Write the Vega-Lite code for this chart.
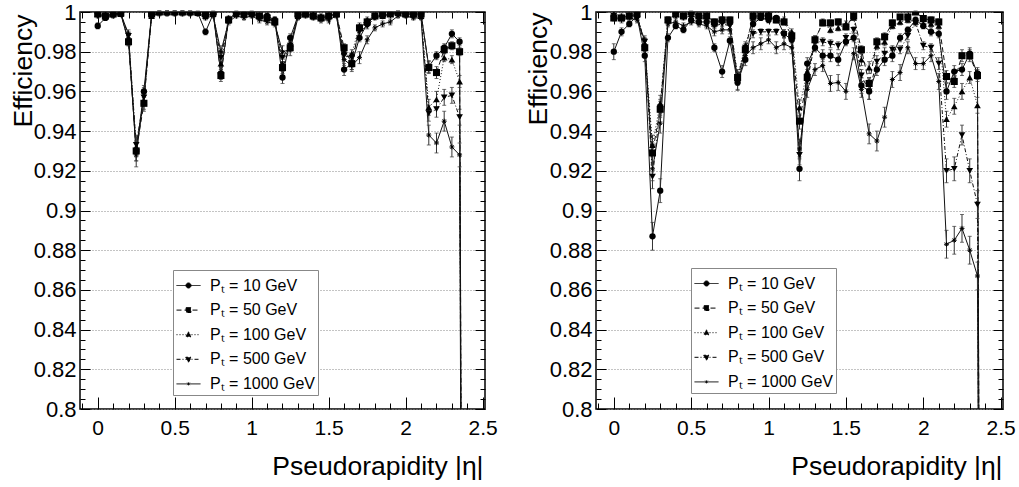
{
"$schema": "https://vega.github.io/schema/vega-lite/v6.json",
"background": "white",
"padding": {"left": 9, "top": 0, "right": 0, "bottom": 0},
"config": {
  "font": "Liberation Sans",
  "view": {"stroke": "black", "strokeWidth": 1.5, "fill": "white"},
  "axis": {"labelFont": "Liberation Sans", "titleFont": "Liberation Sans", "tickColor": "black", "tickWidth": 1, "labelColor": "black", "titleColor": "black"}
},
"datasets": {
"L": [
{"s":"10","x":0,"y":0.993,"e":0.0015},{"s":"10","x":0.05,"y":0.997,"e":0.001},{"s":"10","x":0.1,"y":0.999,"e":0.001},{"s":"10","x":0.15,"y":0.999,"e":0.001},{"s":"10","x":0.2,"y":0.985,"e":0.002},{"s":"10","x":0.25,"y":0.93,"e":0.005},{"s":"10","x":0.3,"y":0.96,"e":0.003},{"s":"10","x":0.35,"y":0.999,"e":0.001},{"s":"10","x":0.4,"y":1,"e":0.0005},{"s":"10","x":0.45,"y":1,"e":0.0005},{"s":"10","x":0.5,"y":1,"e":0.0005},{"s":"10","x":0.55,"y":1,"e":0.0005},{"s":"10","x":0.6,"y":1,"e":0.0005},{"s":"10","x":0.65,"y":0.9995,"e":0.0005},{"s":"10","x":0.7,"y":0.99,"e":0.0015},{"s":"10","x":0.75,"y":0.999,"e":0.001},{"s":"10","x":0.8,"y":0.969,"e":0.003},{"s":"10","x":0.85,"y":0.996,"e":0.0015},{"s":"10","x":0.9,"y":0.999,"e":0.001},{"s":"10","x":0.95,"y":0.999,"e":0.001},{"s":"10","x":1,"y":0.999,"e":0.001},{"s":"10","x":1.05,"y":0.998,"e":0.001},{"s":"10","x":1.1,"y":0.998,"e":0.001},{"s":"10","x":1.15,"y":0.996,"e":0.0015},{"s":"10","x":1.2,"y":0.967,"e":0.003},{"s":"10","x":1.25,"y":0.987,"e":0.002},{"s":"10","x":1.3,"y":0.998,"e":0.001},{"s":"10","x":1.35,"y":0.999,"e":0.001},{"s":"10","x":1.4,"y":0.998,"e":0.001},{"s":"10","x":1.45,"y":0.997,"e":0.001},{"s":"10","x":1.5,"y":0.998,"e":0.001},{"s":"10","x":1.55,"y":0.999,"e":0.001},{"s":"10","x":1.6,"y":0.971,"e":0.003},{"s":"10","x":1.65,"y":0.974,"e":0.003},{"s":"10","x":1.7,"y":0.987,"e":0.002},{"s":"10","x":1.75,"y":0.994,"e":0.0015},{"s":"10","x":1.8,"y":0.998,"e":0.001},{"s":"10","x":1.85,"y":0.998,"e":0.001},{"s":"10","x":1.9,"y":0.999,"e":0.001},{"s":"10","x":1.95,"y":1,"e":0.0005},{"s":"10","x":2,"y":0.999,"e":0.001},{"s":"10","x":2.05,"y":0.999,"e":0.001},{"s":"10","x":2.1,"y":0.999,"e":0.001},{"s":"10","x":2.15,"y":0.9725,"e":0.003},{"s":"10","x":2.2,"y":0.978,"e":0.002},{"s":"10","x":2.25,"y":0.982,"e":0.002},{"s":"10","x":2.3,"y":0.989,"e":0.002},{"s":"10","x":2.35,"y":0.985,"e":0.002},{"s":"10","x":2.4,"y":0,"e":0},
{"s":"50","x":0,"y":0.999,"e":0.001},{"s":"50","x":0.05,"y":0.998,"e":0.001},{"s":"50","x":0.1,"y":0.999,"e":0.001},{"s":"50","x":0.15,"y":0.9995,"e":0.0005},{"s":"50","x":0.2,"y":0.985,"e":0.002},{"s":"50","x":0.25,"y":0.93,"e":0.005},{"s":"50","x":0.3,"y":0.954,"e":0.004},{"s":"50","x":0.35,"y":0.999,"e":0.001},{"s":"50","x":0.4,"y":1,"e":0.0005},{"s":"50","x":0.45,"y":1,"e":0.0005},{"s":"50","x":0.5,"y":1,"e":0.0005},{"s":"50","x":0.55,"y":1,"e":0.0005},{"s":"50","x":0.6,"y":1,"e":0.0005},{"s":"50","x":0.65,"y":1,"e":0.0005},{"s":"50","x":0.7,"y":0.999,"e":0.001},{"s":"50","x":0.75,"y":1,"e":0.0005},{"s":"50","x":0.8,"y":0.968,"e":0.003},{"s":"50","x":0.85,"y":0.996,"e":0.0015},{"s":"50","x":0.9,"y":1,"e":0.0005},{"s":"50","x":0.95,"y":0.999,"e":0.001},{"s":"50","x":1,"y":1,"e":0.0005},{"s":"50","x":1.05,"y":0.998,"e":0.001},{"s":"50","x":1.1,"y":0.997,"e":0.001},{"s":"50","x":1.15,"y":0.995,"e":0.0015},{"s":"50","x":1.2,"y":0.972,"e":0.003},{"s":"50","x":1.25,"y":0.982,"e":0.002},{"s":"50","x":1.3,"y":0.999,"e":0.001},{"s":"50","x":1.35,"y":0.999,"e":0.001},{"s":"50","x":1.4,"y":0.998,"e":0.001},{"s":"50","x":1.45,"y":0.997,"e":0.001},{"s":"50","x":1.5,"y":0.998,"e":0.001},{"s":"50","x":1.55,"y":0.999,"e":0.001},{"s":"50","x":1.6,"y":0.982,"e":0.002},{"s":"50","x":1.65,"y":0.974,"e":0.003},{"s":"50","x":1.7,"y":0.992,"e":0.0015},{"s":"50","x":1.75,"y":0.995,"e":0.0015},{"s":"50","x":1.8,"y":0.998,"e":0.001},{"s":"50","x":1.85,"y":0.999,"e":0.001},{"s":"50","x":1.9,"y":0.999,"e":0.001},{"s":"50","x":1.95,"y":1,"e":0.0005},{"s":"50","x":2,"y":0.999,"e":0.001},{"s":"50","x":2.05,"y":0.999,"e":0.001},{"s":"50","x":2.1,"y":0.999,"e":0.001},{"s":"50","x":2.15,"y":0.972,"e":0.003},{"s":"50","x":2.2,"y":0.9695,"e":0.003},{"s":"50","x":2.25,"y":0.981,"e":0.002},{"s":"50","x":2.3,"y":0.983,"e":0.002},{"s":"50","x":2.35,"y":0.98,"e":0.002},{"s":"50","x":2.4,"y":0,"e":0},
{"s":"100","x":0,"y":0.999,"e":0.001},{"s":"100","x":0.05,"y":0.999,"e":0.001},{"s":"100","x":0.1,"y":0.999,"e":0.001},{"s":"100","x":0.15,"y":0.999,"e":0.001},{"s":"100","x":0.2,"y":0.987,"e":0.002},{"s":"100","x":0.25,"y":0.932,"e":0.005},{"s":"100","x":0.3,"y":0.955,"e":0.004},{"s":"100","x":0.35,"y":0.998,"e":0.001},{"s":"100","x":0.4,"y":1,"e":0.0005},{"s":"100","x":0.45,"y":1,"e":0.0005},{"s":"100","x":0.5,"y":1,"e":0.0005},{"s":"100","x":0.55,"y":1,"e":0.0005},{"s":"100","x":0.6,"y":1,"e":0.0005},{"s":"100","x":0.65,"y":0.9995,"e":0.0005},{"s":"100","x":0.7,"y":0.998,"e":0.001},{"s":"100","x":0.75,"y":0.999,"e":0.001},{"s":"100","x":0.8,"y":0.974,"e":0.003},{"s":"100","x":0.85,"y":0.997,"e":0.001},{"s":"100","x":0.9,"y":0.999,"e":0.001},{"s":"100","x":0.95,"y":0.999,"e":0.001},{"s":"100","x":1,"y":0.999,"e":0.001},{"s":"100","x":1.05,"y":0.998,"e":0.001},{"s":"100","x":1.1,"y":0.997,"e":0.001},{"s":"100","x":1.15,"y":0.996,"e":0.0015},{"s":"100","x":1.2,"y":0.974,"e":0.003},{"s":"100","x":1.25,"y":0.984,"e":0.002},{"s":"100","x":1.3,"y":0.998,"e":0.001},{"s":"100","x":1.35,"y":0.999,"e":0.001},{"s":"100","x":1.4,"y":0.999,"e":0.001},{"s":"100","x":1.45,"y":0.998,"e":0.001},{"s":"100","x":1.5,"y":0.998,"e":0.001},{"s":"100","x":1.55,"y":0.999,"e":0.001},{"s":"100","x":1.6,"y":0.98,"e":0.002},{"s":"100","x":1.65,"y":0.979,"e":0.002},{"s":"100","x":1.7,"y":0.993,"e":0.0015},{"s":"100","x":1.75,"y":0.996,"e":0.0015},{"s":"100","x":1.8,"y":0.998,"e":0.001},{"s":"100","x":1.85,"y":0.998,"e":0.001},{"s":"100","x":1.9,"y":0.999,"e":0.001},{"s":"100","x":1.95,"y":0.9995,"e":0.0005},{"s":"100","x":2,"y":0.999,"e":0.001},{"s":"100","x":2.05,"y":0.999,"e":0.001},{"s":"100","x":2.1,"y":0.998,"e":0.001},{"s":"100","x":2.15,"y":0.952,"e":0.004},{"s":"100","x":2.2,"y":0.956,"e":0.004},{"s":"100","x":2.25,"y":0.977,"e":0.002},{"s":"100","x":2.3,"y":0.976,"e":0.002},{"s":"100","x":2.35,"y":0.965,"e":0.003},{"s":"100","x":2.4,"y":0,"e":0},
{"s":"500","x":0,"y":0.998,"e":0.001},{"s":"500","x":0.05,"y":0.998,"e":0.001},{"s":"500","x":0.1,"y":0.999,"e":0.001},{"s":"500","x":0.15,"y":0.999,"e":0.001},{"s":"500","x":0.2,"y":0.988,"e":0.002},{"s":"500","x":0.25,"y":0.933,"e":0.005},{"s":"500","x":0.3,"y":0.957,"e":0.004},{"s":"500","x":0.35,"y":0.998,"e":0.001},{"s":"500","x":0.4,"y":0.9995,"e":0.0005},{"s":"500","x":0.45,"y":1,"e":0.0005},{"s":"500","x":0.5,"y":1,"e":0.0005},{"s":"500","x":0.55,"y":1,"e":0.0005},{"s":"500","x":0.6,"y":0.9995,"e":0.0005},{"s":"500","x":0.65,"y":0.9995,"e":0.0005},{"s":"500","x":0.7,"y":0.998,"e":0.001},{"s":"500","x":0.75,"y":0.999,"e":0.001},{"s":"500","x":0.8,"y":0.977,"e":0.002},{"s":"500","x":0.85,"y":0.996,"e":0.0015},{"s":"500","x":0.9,"y":0.999,"e":0.001},{"s":"500","x":0.95,"y":0.999,"e":0.001},{"s":"500","x":1,"y":0.999,"e":0.001},{"s":"500","x":1.05,"y":0.997,"e":0.001},{"s":"500","x":1.1,"y":0.997,"e":0.001},{"s":"500","x":1.15,"y":0.995,"e":0.0015},{"s":"500","x":1.2,"y":0.977,"e":0.002},{"s":"500","x":1.25,"y":0.983,"e":0.002},{"s":"500","x":1.3,"y":0.998,"e":0.001},{"s":"500","x":1.35,"y":0.999,"e":0.001},{"s":"500","x":1.4,"y":0.998,"e":0.001},{"s":"500","x":1.45,"y":0.997,"e":0.001},{"s":"500","x":1.5,"y":0.997,"e":0.001},{"s":"500","x":1.55,"y":0.999,"e":0.001},{"s":"500","x":1.6,"y":0.978,"e":0.002},{"s":"500","x":1.65,"y":0.977,"e":0.002},{"s":"500","x":1.7,"y":0.99,"e":0.0015},{"s":"500","x":1.75,"y":0.993,"e":0.0015},{"s":"500","x":1.8,"y":0.997,"e":0.001},{"s":"500","x":1.85,"y":0.998,"e":0.001},{"s":"500","x":1.9,"y":0.999,"e":0.001},{"s":"500","x":1.95,"y":0.999,"e":0.001},{"s":"500","x":2,"y":0.999,"e":0.001},{"s":"500","x":2.05,"y":0.998,"e":0.001},{"s":"500","x":2.1,"y":0.998,"e":0.001},{"s":"500","x":2.15,"y":0.949,"e":0.004},{"s":"500","x":2.2,"y":0.951,"e":0.004},{"s":"500","x":2.25,"y":0.957,"e":0.004},{"s":"500","x":2.3,"y":0.958,"e":0.004},{"s":"500","x":2.35,"y":0.947,"e":0.004},{"s":"500","x":2.4,"y":0,"e":0},
{"s":"1000","x":0,"y":0.999,"e":0.001},{"s":"1000","x":0.05,"y":0.997,"e":0.001},{"s":"1000","x":0.1,"y":0.998,"e":0.001},{"s":"1000","x":0.15,"y":0.999,"e":0.001},{"s":"1000","x":0.2,"y":0.989,"e":0.002},{"s":"1000","x":0.25,"y":0.928,"e":0.006},{"s":"1000","x":0.3,"y":0.958,"e":0.004},{"s":"1000","x":0.35,"y":0.998,"e":0.001},{"s":"1000","x":0.4,"y":0.999,"e":0.001},{"s":"1000","x":0.45,"y":0.999,"e":0.001},{"s":"1000","x":0.5,"y":0.999,"e":0.001},{"s":"1000","x":0.55,"y":0.999,"e":0.001},{"s":"1000","x":0.6,"y":0.999,"e":0.001},{"s":"1000","x":0.65,"y":0.999,"e":0.001},{"s":"1000","x":0.7,"y":0.997,"e":0.001},{"s":"1000","x":0.75,"y":0.998,"e":0.001},{"s":"1000","x":0.8,"y":0.98,"e":0.003},{"s":"1000","x":0.85,"y":0.995,"e":0.0015},{"s":"1000","x":0.9,"y":0.998,"e":0.001},{"s":"1000","x":0.95,"y":0.997,"e":0.001},{"s":"1000","x":1,"y":0.998,"e":0.001},{"s":"1000","x":1.05,"y":0.996,"e":0.0015},{"s":"1000","x":1.1,"y":0.995,"e":0.0015},{"s":"1000","x":1.15,"y":0.994,"e":0.0015},{"s":"1000","x":1.2,"y":0.98,"e":0.003},{"s":"1000","x":1.25,"y":0.981,"e":0.003},{"s":"1000","x":1.3,"y":0.997,"e":0.001},{"s":"1000","x":1.35,"y":0.998,"e":0.001},{"s":"1000","x":1.4,"y":0.997,"e":0.001},{"s":"1000","x":1.45,"y":0.996,"e":0.0015},{"s":"1000","x":1.5,"y":0.996,"e":0.0015},{"s":"1000","x":1.55,"y":0.998,"e":0.001},{"s":"1000","x":1.6,"y":0.976,"e":0.003},{"s":"1000","x":1.65,"y":0.973,"e":0.003},{"s":"1000","x":1.7,"y":0.977,"e":0.003},{"s":"1000","x":1.75,"y":0.986,"e":0.002},{"s":"1000","x":1.8,"y":0.992,"e":0.0015},{"s":"1000","x":1.85,"y":0.994,"e":0.0015},{"s":"1000","x":1.9,"y":0.995,"e":0.0015},{"s":"1000","x":1.95,"y":0.998,"e":0.001},{"s":"1000","x":2,"y":0.998,"e":0.001},{"s":"1000","x":2.05,"y":0.997,"e":0.001},{"s":"1000","x":2.1,"y":0.997,"e":0.001},{"s":"1000","x":2.15,"y":0.938,"e":0.005},{"s":"1000","x":2.2,"y":0.934,"e":0.005},{"s":"1000","x":2.25,"y":0.945,"e":0.005},{"s":"1000","x":2.3,"y":0.932,"e":0.005},{"s":"1000","x":2.35,"y":0.928,"e":0.006},{"s":"1000","x":2.4,"y":0,"e":0}
],
"R": [
{"s":"10","x":0,"y":0.98,"e":0.004},{"s":"10","x":0.05,"y":0.99,"e":0.002},{"s":"10","x":0.1,"y":0.994,"e":0.0015},{"s":"10","x":0.15,"y":0.998,"e":0.001},{"s":"10","x":0.2,"y":0.978,"e":0.003},{"s":"10","x":0.25,"y":0.887,"e":0.007},{"s":"10","x":0.3,"y":0.91,"e":0.006},{"s":"10","x":0.35,"y":0.987,"e":0.002},{"s":"10","x":0.4,"y":0.993,"e":0.0015},{"s":"10","x":0.45,"y":0.991,"e":0.0015},{"s":"10","x":0.5,"y":0.996,"e":0.0015},{"s":"10","x":0.55,"y":0.995,"e":0.0015},{"s":"10","x":0.6,"y":0.995,"e":0.0015},{"s":"10","x":0.65,"y":0.982,"e":0.002},{"s":"10","x":0.7,"y":0.97,"e":0.003},{"s":"10","x":0.75,"y":0.9855,"e":0.002},{"s":"10","x":0.8,"y":0.9645,"e":0.004},{"s":"10","x":0.85,"y":0.976,"e":0.003},{"s":"10","x":0.9,"y":0.994,"e":0.0015},{"s":"10","x":0.95,"y":0.997,"e":0.001},{"s":"10","x":1,"y":0.996,"e":0.0015},{"s":"10","x":1.05,"y":0.997,"e":0.001},{"s":"10","x":1.1,"y":0.989,"e":0.002},{"s":"10","x":1.15,"y":0.986,"e":0.002},{"s":"10","x":1.2,"y":0.921,"e":0.006},{"s":"10","x":1.25,"y":0.974,"e":0.003},{"s":"10","x":1.3,"y":0.982,"e":0.002},{"s":"10","x":1.35,"y":0.978,"e":0.003},{"s":"10","x":1.4,"y":0.978,"e":0.003},{"s":"10","x":1.45,"y":0.976,"e":0.003},{"s":"10","x":1.5,"y":0.985,"e":0.002},{"s":"10","x":1.55,"y":0.987,"e":0.002},{"s":"10","x":1.6,"y":0.963,"e":0.004},{"s":"10","x":1.65,"y":0.96,"e":0.004},{"s":"10","x":1.7,"y":0.971,"e":0.003},{"s":"10","x":1.75,"y":0.976,"e":0.003},{"s":"10","x":1.8,"y":0.978,"e":0.003},{"s":"10","x":1.85,"y":0.987,"e":0.002},{"s":"10","x":1.9,"y":0.991,"e":0.0015},{"s":"10","x":1.95,"y":0.996,"e":0.0015},{"s":"10","x":2,"y":0.993,"e":0.0015},{"s":"10","x":2.05,"y":0.99,"e":0.002},{"s":"10","x":2.1,"y":0.989,"e":0.002},{"s":"10","x":2.15,"y":0.96,"e":0.004},{"s":"10","x":2.2,"y":0.97,"e":0.003},{"s":"10","x":2.25,"y":0.971,"e":0.003},{"s":"10","x":2.3,"y":0.979,"e":0.003},{"s":"10","x":2.35,"y":0.969,"e":0.003},{"s":"10","x":2.4,"y":0,"e":0},
{"s":"50","x":0,"y":0.997,"e":0.001},{"s":"50","x":0.05,"y":0.997,"e":0.001},{"s":"50","x":0.1,"y":0.998,"e":0.001},{"s":"50","x":0.15,"y":0.999,"e":0.001},{"s":"50","x":0.2,"y":0.982,"e":0.002},{"s":"50","x":0.25,"y":0.929,"e":0.005},{"s":"50","x":0.3,"y":0.951,"e":0.004},{"s":"50","x":0.35,"y":0.996,"e":0.0015},{"s":"50","x":0.4,"y":0.999,"e":0.001},{"s":"50","x":0.45,"y":0.998,"e":0.001},{"s":"50","x":0.5,"y":1,"e":0.0005},{"s":"50","x":0.55,"y":0.998,"e":0.001},{"s":"50","x":0.6,"y":0.998,"e":0.001},{"s":"50","x":0.65,"y":0.995,"e":0.0015},{"s":"50","x":0.7,"y":0.996,"e":0.0015},{"s":"50","x":0.75,"y":0.996,"e":0.0015},{"s":"50","x":0.8,"y":0.967,"e":0.003},{"s":"50","x":0.85,"y":0.981,"e":0.002},{"s":"50","x":0.9,"y":0.998,"e":0.001},{"s":"50","x":0.95,"y":0.998,"e":0.001},{"s":"50","x":1,"y":0.998,"e":0.001},{"s":"50","x":1.05,"y":0.996,"e":0.0015},{"s":"50","x":1.1,"y":0.995,"e":0.0015},{"s":"50","x":1.15,"y":0.988,"e":0.002},{"s":"50","x":1.2,"y":0.945,"e":0.004},{"s":"50","x":1.25,"y":0.967,"e":0.003},{"s":"50","x":1.3,"y":0.986,"e":0.002},{"s":"50","x":1.35,"y":0.9945,"e":0.0015},{"s":"50","x":1.4,"y":0.9945,"e":0.0015},{"s":"50","x":1.45,"y":0.995,"e":0.0015},{"s":"50","x":1.5,"y":0.9925,"e":0.0015},{"s":"50","x":1.55,"y":0.998,"e":0.001},{"s":"50","x":1.6,"y":0.981,"e":0.002},{"s":"50","x":1.65,"y":0.964,"e":0.003},{"s":"50","x":1.7,"y":0.985,"e":0.002},{"s":"50","x":1.75,"y":0.9875,"e":0.002},{"s":"50","x":1.8,"y":0.9945,"e":0.0015},{"s":"50","x":1.85,"y":0.9975,"e":0.001},{"s":"50","x":1.9,"y":0.9975,"e":0.001},{"s":"50","x":1.95,"y":1,"e":0.0005},{"s":"50","x":2,"y":0.9967,"e":0.001},{"s":"50","x":2.05,"y":0.996,"e":0.0015},{"s":"50","x":2.1,"y":0.995,"e":0.0015},{"s":"50","x":2.15,"y":0.9675,"e":0.003},{"s":"50","x":2.2,"y":0.965,"e":0.003},{"s":"50","x":2.25,"y":0.978,"e":0.003},{"s":"50","x":2.3,"y":0.978,"e":0.003},{"s":"50","x":2.35,"y":0.968,"e":0.003},{"s":"50","x":2.4,"y":0,"e":0},
{"s":"100","x":0,"y":0.999,"e":0.001},{"s":"100","x":0.05,"y":0.998,"e":0.001},{"s":"100","x":0.1,"y":0.998,"e":0.001},{"s":"100","x":0.15,"y":0.999,"e":0.001},{"s":"100","x":0.2,"y":0.984,"e":0.002},{"s":"100","x":0.25,"y":0.933,"e":0.005},{"s":"100","x":0.3,"y":0.954,"e":0.004},{"s":"100","x":0.35,"y":0.996,"e":0.0015},{"s":"100","x":0.4,"y":0.999,"e":0.001},{"s":"100","x":0.45,"y":0.998,"e":0.001},{"s":"100","x":0.5,"y":0.999,"e":0.001},{"s":"100","x":0.55,"y":0.998,"e":0.001},{"s":"100","x":0.6,"y":0.998,"e":0.001},{"s":"100","x":0.65,"y":0.994,"e":0.0015},{"s":"100","x":0.7,"y":0.996,"e":0.0015},{"s":"100","x":0.75,"y":0.995,"e":0.0015},{"s":"100","x":0.8,"y":0.968,"e":0.003},{"s":"100","x":0.85,"y":0.983,"e":0.002},{"s":"100","x":0.9,"y":0.997,"e":0.001},{"s":"100","x":0.95,"y":0.998,"e":0.001},{"s":"100","x":1,"y":0.999,"e":0.001},{"s":"100","x":1.05,"y":0.997,"e":0.001},{"s":"100","x":1.1,"y":0.996,"e":0.0015},{"s":"100","x":1.15,"y":0.99,"e":0.0015},{"s":"100","x":1.2,"y":0.952,"e":0.004},{"s":"100","x":1.25,"y":0.97,"e":0.003},{"s":"100","x":1.3,"y":0.986,"e":0.002},{"s":"100","x":1.35,"y":0.995,"e":0.0015},{"s":"100","x":1.4,"y":0.991,"e":0.0015},{"s":"100","x":1.45,"y":0.992,"e":0.0015},{"s":"100","x":1.5,"y":0.994,"e":0.0015},{"s":"100","x":1.55,"y":0.997,"e":0.001},{"s":"100","x":1.6,"y":0.976,"e":0.003},{"s":"100","x":1.65,"y":0.972,"e":0.003},{"s":"100","x":1.7,"y":0.983,"e":0.002},{"s":"100","x":1.75,"y":0.985,"e":0.002},{"s":"100","x":1.8,"y":0.993,"e":0.0015},{"s":"100","x":1.85,"y":0.995,"e":0.0015},{"s":"100","x":1.9,"y":0.996,"e":0.0015},{"s":"100","x":1.95,"y":0.995,"e":0.0015},{"s":"100","x":2,"y":0.994,"e":0.0015},{"s":"100","x":2.05,"y":0.994,"e":0.0015},{"s":"100","x":2.1,"y":0.993,"e":0.0015},{"s":"100","x":2.15,"y":0.946,"e":0.004},{"s":"100","x":2.2,"y":0.9525,"e":0.004},{"s":"100","x":2.25,"y":0.96,"e":0.004},{"s":"100","x":2.3,"y":0.967,"e":0.003},{"s":"100","x":2.35,"y":0.953,"e":0.004},{"s":"100","x":2.4,"y":0,"e":0},
{"s":"500","x":0,"y":0.998,"e":0.001},{"s":"500","x":0.05,"y":0.997,"e":0.001},{"s":"500","x":0.1,"y":0.998,"e":0.001},{"s":"500","x":0.15,"y":0.998,"e":0.001},{"s":"500","x":0.2,"y":0.985,"e":0.002},{"s":"500","x":0.25,"y":0.917,"e":0.006},{"s":"500","x":0.3,"y":0.952,"e":0.004},{"s":"500","x":0.35,"y":0.995,"e":0.0015},{"s":"500","x":0.4,"y":0.998,"e":0.001},{"s":"500","x":0.45,"y":0.997,"e":0.001},{"s":"500","x":0.5,"y":0.998,"e":0.001},{"s":"500","x":0.55,"y":0.997,"e":0.001},{"s":"500","x":0.6,"y":0.997,"e":0.001},{"s":"500","x":0.65,"y":0.993,"e":0.0015},{"s":"500","x":0.7,"y":0.994,"e":0.0015},{"s":"500","x":0.75,"y":0.993,"e":0.0015},{"s":"500","x":0.8,"y":0.966,"e":0.003},{"s":"500","x":0.85,"y":0.982,"e":0.002},{"s":"500","x":0.9,"y":0.989,"e":0.002},{"s":"500","x":0.95,"y":0.99,"e":0.0015},{"s":"500","x":1,"y":0.99,"e":0.0015},{"s":"500","x":1.05,"y":0.99,"e":0.0015},{"s":"500","x":1.1,"y":0.989,"e":0.002},{"s":"500","x":1.15,"y":0.987,"e":0.002},{"s":"500","x":1.2,"y":0.928,"e":0.005},{"s":"500","x":1.25,"y":0.965,"e":0.003},{"s":"500","x":1.3,"y":0.985,"e":0.002},{"s":"500","x":1.35,"y":0.985,"e":0.002},{"s":"500","x":1.4,"y":0.984,"e":0.002},{"s":"500","x":1.45,"y":0.983,"e":0.002},{"s":"500","x":1.5,"y":0.987,"e":0.002},{"s":"500","x":1.55,"y":0.991,"e":0.0015},{"s":"500","x":1.6,"y":0.968,"e":0.003},{"s":"500","x":1.65,"y":0.96,"e":0.004},{"s":"500","x":1.7,"y":0.975,"e":0.003},{"s":"500","x":1.75,"y":0.979,"e":0.003},{"s":"500","x":1.8,"y":0.981,"e":0.002},{"s":"500","x":1.85,"y":0.981,"e":0.002},{"s":"500","x":1.9,"y":0.988,"e":0.002},{"s":"500","x":1.95,"y":0.9945,"e":0.0015},{"s":"500","x":2,"y":0.983,"e":0.002},{"s":"500","x":2.05,"y":0.982,"e":0.002},{"s":"500","x":2.1,"y":0.974,"e":0.003},{"s":"500","x":2.15,"y":0.92,"e":0.006},{"s":"500","x":2.2,"y":0.921,"e":0.006},{"s":"500","x":2.25,"y":0.938,"e":0.005},{"s":"500","x":2.3,"y":0.92,"e":0.006},{"s":"500","x":2.35,"y":0.903,"e":0.007},{"s":"500","x":2.4,"y":0,"e":0},
{"s":"1000","x":0,"y":0.997,"e":0.0015},{"s":"1000","x":0.05,"y":0.996,"e":0.0015},{"s":"1000","x":0.1,"y":0.997,"e":0.001},{"s":"1000","x":0.15,"y":0.996,"e":0.0015},{"s":"1000","x":0.2,"y":0.986,"e":0.002},{"s":"1000","x":0.25,"y":0.921,"e":0.006},{"s":"1000","x":0.3,"y":0.944,"e":0.005},{"s":"1000","x":0.35,"y":0.994,"e":0.0015},{"s":"1000","x":0.4,"y":0.995,"e":0.0015},{"s":"1000","x":0.45,"y":0.993,"e":0.0015},{"s":"1000","x":0.5,"y":0.995,"e":0.0015},{"s":"1000","x":0.55,"y":0.994,"e":0.0015},{"s":"1000","x":0.6,"y":0.993,"e":0.0015},{"s":"1000","x":0.65,"y":0.99,"e":0.002},{"s":"1000","x":0.7,"y":0.991,"e":0.002},{"s":"1000","x":0.75,"y":0.991,"e":0.002},{"s":"1000","x":0.8,"y":0.965,"e":0.004},{"s":"1000","x":0.85,"y":0.978,"e":0.003},{"s":"1000","x":0.9,"y":0.982,"e":0.003},{"s":"1000","x":0.95,"y":0.984,"e":0.003},{"s":"1000","x":1,"y":0.986,"e":0.002},{"s":"1000","x":1.05,"y":0.982,"e":0.003},{"s":"1000","x":1.1,"y":0.984,"e":0.003},{"s":"1000","x":1.15,"y":0.982,"e":0.003},{"s":"1000","x":1.2,"y":0.931,"e":0.005},{"s":"1000","x":1.25,"y":0.961,"e":0.004},{"s":"1000","x":1.3,"y":0.971,"e":0.003},{"s":"1000","x":1.35,"y":0.973,"e":0.003},{"s":"1000","x":1.4,"y":0.964,"e":0.004},{"s":"1000","x":1.45,"y":0.9645,"e":0.004},{"s":"1000","x":1.5,"y":0.96,"e":0.004},{"s":"1000","x":1.55,"y":0.979,"e":0.003},{"s":"1000","x":1.6,"y":0.961,"e":0.004},{"s":"1000","x":1.65,"y":0.9386,"e":0.005},{"s":"1000","x":1.7,"y":0.935,"e":0.005},{"s":"1000","x":1.75,"y":0.947,"e":0.005},{"s":"1000","x":1.8,"y":0.966,"e":0.004},{"s":"1000","x":1.85,"y":0.9695,"e":0.004},{"s":"1000","x":1.9,"y":0.982,"e":0.003},{"s":"1000","x":1.95,"y":0.974,"e":0.003},{"s":"1000","x":2,"y":0.974,"e":0.003},{"s":"1000","x":2.05,"y":0.978,"e":0.003},{"s":"1000","x":2.1,"y":0.965,"e":0.004},{"s":"1000","x":2.15,"y":0.883,"e":0.007},{"s":"1000","x":2.2,"y":0.885,"e":0.007},{"s":"1000","x":2.25,"y":0.891,"e":0.007},{"s":"1000","x":2.3,"y":0.88,"e":0.007},{"s":"1000","x":2.35,"y":0.867,"e":0.007},{"s":"1000","x":2.4,"y":0,"e":0}
]
},
"hconcat": [
{
 "width": 405, "height": 397,
 "data": {"name": "L"},
 "resolve": {"axis": {"x": "independent", "y": "independent"}},
 "layer": [
  {"transform": [{"filter": "datum.s == '10'"}],
   "mark": {"type": "line", "clip": true, "strokeWidth": 1, "color": "#111"},
   "encoding": {
    "x": {"field": "x", "type": "quantitative", "scale": {"domain": [-0.115, 2.515], "nice": false, "zero": false},
      "axis": {"orient": "bottom", "values": [0,0.5,1,1.5,2,2.5], "format": "~g", "ticks": false, "domain": false, "grid": false, "labelFontSize": 21, "labelPadding": 8, "labelFlush": false, "labelOverlap": false, "title": "Pseudorapidity |η|", "titleFontSize": 26.5, "titleFontWeight": "normal", "titleAnchor": "end", "titleAlign": "right", "titleBaseline": "alphabetic", "titleX": 403, "titleY": 65}},
    "y": {"field": "y", "type": "quantitative", "scale": {"domain": [0.8, 1], "nice": false, "zero": false},
      "axis": {"orient": "left", "values": [0.8,0.82,0.84,0.86,0.88,0.9,0.92,0.94,0.96,0.98,1], "format": "~g", "ticks": false, "domain": false, "grid": true, "gridColor": "#888", "gridDash": [1,2], "gridWidth": 1, "labelFontSize": 22, "labelPadding": 4, "labelFlush": false, "labelOverlap": false, "title": "Efficiency", "titleFontSize": 26.5, "titleFontWeight": "normal", "titleAngle": 270, "titleAlign": "right", "titleBaseline": "alphabetic", "titleX": -49, "titleY": 2}}
   }},
  {"transform": [{"filter": "datum.s == '50'"}],
   "mark": {"type": "line", "clip": true, "strokeWidth": 1, "color": "#111", "strokeDash": [5,3]},
   "encoding": {"x": {"field": "x", "type": "quantitative", "axis": null}, "y": {"field": "y", "type": "quantitative", "axis": null}}},
  {"transform": [{"filter": "datum.s == '100'"}],
   "mark": {"type": "line", "clip": true, "strokeWidth": 1, "color": "#111", "strokeDash": [1,2]},
   "encoding": {"x": {"field": "x", "type": "quantitative", "axis": null}, "y": {"field": "y", "type": "quantitative", "axis": null}}},
  {"transform": [{"filter": "datum.s == '500'"}],
   "mark": {"type": "line", "clip": true, "strokeWidth": 1, "color": "#111", "strokeDash": [4,2,1,2]},
   "encoding": {"x": {"field": "x", "type": "quantitative", "axis": null}, "y": {"field": "y", "type": "quantitative", "axis": null}}},
  {"transform": [{"filter": "datum.s == '1000'"}],
   "mark": {"type": "line", "clip": true, "strokeWidth": 1, "color": "#111"},
   "encoding": {"x": {"field": "x", "type": "quantitative", "axis": null}, "y": {"field": "y", "type": "quantitative", "axis": null}}},
  {"transform": [{"filter": "datum.y > 0"}],
   "mark": {"type": "errorbar", "ticks": {"size": 4}, "color": "#333", "thickness": 1},
   "encoding": {"x": {"field": "x", "type": "quantitative", "axis": null}, "y": {"field": "y", "type": "quantitative", "axis": null}, "yError": {"field": "e"}}},
  {"transform": [{"filter": "datum.s == '10'"}],
   "mark": {"type": "point", "shape": "circle", "filled": true, "color": "black", "size": 40, "opacity": 1, "clip": true},
   "encoding": {"x": {"field": "x", "type": "quantitative", "axis": {"orient": "bottom", "values": [0,0.5,1,1.5,2,2.5], "labels": false, "domain": false, "grid": false, "tickSize": -12, "title": null}},
                "y": {"field": "y", "type": "quantitative", "axis": {"orient": "left", "values": [0.8,0.82,0.84,0.86,0.88,0.9,0.92,0.94,0.96,0.98,1], "labels": false, "domain": false, "grid": false, "tickSize": -10, "title": null}}}},
  {"transform": [{"filter": "datum.s == '50'"}],
   "mark": {"type": "point", "shape": "square", "filled": true, "color": "black", "size": 50, "opacity": 1, "clip": true},
   "encoding": {"x": {"field": "x", "type": "quantitative", "axis": {"orient": "bottom", "values": [-0.1,0.1,0.2,0.3,0.4,0.6,0.7,0.8,0.9,1.1,1.2,1.3,1.4,1.6,1.7,1.8,1.9,2.1,2.2,2.3,2.4], "labels": false, "domain": false, "grid": false, "tickSize": -6, "title": null}},
                "y": {"field": "y", "type": "quantitative", "axis": {"orient": "left", "values": [0.805,0.81,0.815,0.825,0.83,0.835,0.845,0.85,0.855,0.865,0.87,0.875,0.885,0.89,0.895,0.905,0.91,0.915,0.925,0.93,0.935,0.945,0.95,0.955,0.965,0.97,0.975,0.985,0.99,0.995], "labels": false, "domain": false, "grid": false, "tickSize": -5, "title": null}}}},
  {"transform": [{"filter": "datum.s == '100'"}],
   "mark": {"type": "point", "shape": "triangle-up", "filled": true, "color": "black", "size": 45, "opacity": 1, "clip": true},
   "encoding": {"x": {"field": "x", "type": "quantitative", "axis": {"orient": "top", "values": [0,0.5,1,1.5,2,2.5], "labels": false, "domain": false, "grid": false, "tickSize": -12, "title": null}},
                "y": {"field": "y", "type": "quantitative", "axis": {"orient": "right", "values": [0.8,0.82,0.84,0.86,0.88,0.9,0.92,0.94,0.96,0.98,1], "labels": false, "domain": false, "grid": false, "tickSize": -10, "title": null}}}},
  {"transform": [{"filter": "datum.s == '500'"}],
   "mark": {"type": "point", "shape": "triangle-down", "filled": true, "color": "black", "size": 45, "opacity": 1, "clip": true},
   "encoding": {"x": {"field": "x", "type": "quantitative", "axis": {"orient": "top", "values": [-0.1,0.1,0.2,0.3,0.4,0.6,0.7,0.8,0.9,1.1,1.2,1.3,1.4,1.6,1.7,1.8,1.9,2.1,2.2,2.3,2.4], "labels": false, "domain": false, "grid": false, "tickSize": -6, "title": null}},
                "y": {"field": "y", "type": "quantitative", "axis": {"orient": "right", "values": [0.805,0.81,0.815,0.825,0.83,0.835,0.845,0.85,0.855,0.865,0.87,0.875,0.885,0.89,0.895,0.905,0.91,0.915,0.925,0.93,0.935,0.945,0.95,0.955,0.965,0.97,0.975,0.985,0.99,0.995], "labels": false, "domain": false, "grid": false, "tickSize": -5, "title": null}}}},
  {"transform": [{"filter": "datum.s == '1000'"}],
   "mark": {"type": "point", "shape": "M0,-1V1M-1,0H1M-0.7,-0.7L0.7,0.7M-0.7,0.7L0.7,-0.7", "filled": false, "color": "black", "strokeWidth": 1, "size": 25, "opacity": 1, "clip": true},
   "encoding": {"x": {"field": "x", "type": "quantitative", "axis": null}, "y": {"field": "y", "type": "quantitative", "axis": null}}},
  {"transform": [{"filter": "datum.x == 0"}],
   "mark": {"type": "point", "filled": true, "color": "black", "stroke": "black", "strokeWidth": 1, "opacity": 1, "clip": true},
   "encoding": {
    "x": {"field": "x", "type": "quantitative", "axis": null},
    "y": {"datum": 0.5, "type": "quantitative", "axis": null},
    "shape": {"field": "s", "type": "nominal",
      "scale": {"domain": ["10","50","100","500","1000"], "range": ["M-1,0H1M-0.21,0A0.21,0.21,0,1,1,0.21,0A0.21,0.21,0,1,1,-0.21,0Z", "M-1,0H1M-0.2,-0.2H0.2V0.2H-0.2Z", "M-1,0H1M0,-0.25L0.23,0.17H-0.23Z", "M-1,0H1M0,0.25L0.23,-0.17H-0.23Z", "M-1,0H1M0,-0.12V0.12M-0.1,-0.1L0.1,0.1M-0.1,0.1L0.1,-0.1"]},
      "legend": {"title": null, "orient": "none", "legendX": 93, "legendY": 258, "direction": "vertical", "symbolSize": 576, "symbolStrokeWidth": 1, "symbolOpacity": 1, "labelFont": "Liberation Sans", "labelFontSize": 16, "labelColor": "black", "labelOffset": 9, "labelLimit": 300, "labelExpr": "'P\u209c = ' + datum.label + ' GeV'", "padding": 3, "strokeColor": "#888", "fillColor": "white", "rowPadding": 3.6, "symbolOffset": 0,
        "encode": {"symbols": {"fill": {"value": "black"}, "stroke": {"value": "black"}, "strokeWidth": {"value": 1}, "opacity": {"value": 1}}}}},
    "strokeDash": {"field": "s", "type": "nominal", "scale": {"domain": ["10","50","100","500","1000"], "range": [[1,0],[5,3],[1,2],[4,2,1,2],[1,0]]},
      "legend": {"title": null, "orient": "none", "legendX": 93, "legendY": 258, "direction": "vertical", "symbolSize": 576, "symbolStrokeWidth": 1, "symbolOpacity": 1, "labelFont": "Liberation Sans", "labelFontSize": 16, "labelColor": "black", "labelOffset": 9, "labelLimit": 300, "labelExpr": "'P\u209c = ' + datum.label + ' GeV'", "padding": 3, "strokeColor": "#888", "fillColor": "white", "rowPadding": 3.6, "symbolOffset": 0,
        "encode": {"symbols": {"fill": {"value": "black"}, "stroke": {"value": "black"}, "strokeWidth": {"value": 1}, "opacity": {"value": 1}}}}}
   }}
 ]
},
{
 "width": 407, "height": 397,
 "data": {"name": "R"},
 "resolve": {"axis": {"x": "independent", "y": "independent"}},
 "layer": [
  {"transform": [{"filter": "datum.s == '10'"}],
   "mark": {"type": "line", "clip": true, "strokeWidth": 1, "color": "#111"},
   "encoding": {
    "x": {"field": "x", "type": "quantitative", "scale": {"domain": [-0.115, 2.515], "nice": false, "zero": false},
      "axis": {"orient": "bottom", "values": [0,0.5,1,1.5,2,2.5], "format": "~g", "ticks": false, "domain": false, "grid": false, "labelFontSize": 21, "labelPadding": 8, "labelFlush": false, "labelOverlap": false, "title": "Pseudorapidity |η|", "titleFontSize": 26.5, "titleFontWeight": "normal", "titleAnchor": "end", "titleAlign": "right", "titleBaseline": "alphabetic", "titleX": 406, "titleY": 65}},
    "y": {"field": "y", "type": "quantitative", "scale": {"domain": [0.8, 1], "nice": false, "zero": false},
      "axis": {"orient": "left", "values": [0.8,0.82,0.84,0.86,0.88,0.9,0.92,0.94,0.96,0.98,1], "format": "~g", "ticks": false, "domain": false, "grid": true, "gridColor": "#888", "gridDash": [1,2], "gridWidth": 1, "labelFontSize": 22, "labelPadding": 4, "labelFlush": false, "labelOverlap": false, "title": "Efficiency", "titleFontSize": 26.5, "titleFontWeight": "normal", "titleAngle": 270, "titleAlign": "right", "titleBaseline": "alphabetic", "titleX": -50, "titleY": 0}}
   }},
  {"transform": [{"filter": "datum.s == '50'"}],
   "mark": {"type": "line", "clip": true, "strokeWidth": 1, "color": "#111", "strokeDash": [5,3]},
   "encoding": {"x": {"field": "x", "type": "quantitative", "axis": null}, "y": {"field": "y", "type": "quantitative", "axis": null}}},
  {"transform": [{"filter": "datum.s == '100'"}],
   "mark": {"type": "line", "clip": true, "strokeWidth": 1, "color": "#111", "strokeDash": [1,2]},
   "encoding": {"x": {"field": "x", "type": "quantitative", "axis": null}, "y": {"field": "y", "type": "quantitative", "axis": null}}},
  {"transform": [{"filter": "datum.s == '500'"}],
   "mark": {"type": "line", "clip": true, "strokeWidth": 1, "color": "#111", "strokeDash": [4,2,1,2]},
   "encoding": {"x": {"field": "x", "type": "quantitative", "axis": null}, "y": {"field": "y", "type": "quantitative", "axis": null}}},
  {"transform": [{"filter": "datum.s == '1000'"}],
   "mark": {"type": "line", "clip": true, "strokeWidth": 1, "color": "#111"},
   "encoding": {"x": {"field": "x", "type": "quantitative", "axis": null}, "y": {"field": "y", "type": "quantitative", "axis": null}}},
  {"transform": [{"filter": "datum.y > 0"}],
   "mark": {"type": "errorbar", "ticks": {"size": 4}, "color": "#333", "thickness": 1},
   "encoding": {"x": {"field": "x", "type": "quantitative", "axis": null}, "y": {"field": "y", "type": "quantitative", "axis": null}, "yError": {"field": "e"}}},
  {"transform": [{"filter": "datum.s == '10'"}],
   "mark": {"type": "point", "shape": "circle", "filled": true, "color": "black", "size": 40, "opacity": 1, "clip": true},
   "encoding": {"x": {"field": "x", "type": "quantitative", "axis": {"orient": "bottom", "values": [0,0.5,1,1.5,2,2.5], "labels": false, "domain": false, "grid": false, "tickSize": -12, "title": null}},
                "y": {"field": "y", "type": "quantitative", "axis": {"orient": "left", "values": [0.8,0.82,0.84,0.86,0.88,0.9,0.92,0.94,0.96,0.98,1], "labels": false, "domain": false, "grid": false, "tickSize": -10, "title": null}}}},
  {"transform": [{"filter": "datum.s == '50'"}],
   "mark": {"type": "point", "shape": "square", "filled": true, "color": "black", "size": 50, "opacity": 1, "clip": true},
   "encoding": {"x": {"field": "x", "type": "quantitative", "axis": {"orient": "bottom", "values": [-0.1,0.1,0.2,0.3,0.4,0.6,0.7,0.8,0.9,1.1,1.2,1.3,1.4,1.6,1.7,1.8,1.9,2.1,2.2,2.3,2.4], "labels": false, "domain": false, "grid": false, "tickSize": -6, "title": null}},
                "y": {"field": "y", "type": "quantitative", "axis": {"orient": "left", "values": [0.805,0.81,0.815,0.825,0.83,0.835,0.845,0.85,0.855,0.865,0.87,0.875,0.885,0.89,0.895,0.905,0.91,0.915,0.925,0.93,0.935,0.945,0.95,0.955,0.965,0.97,0.975,0.985,0.99,0.995], "labels": false, "domain": false, "grid": false, "tickSize": -5, "title": null}}}},
  {"transform": [{"filter": "datum.s == '100'"}],
   "mark": {"type": "point", "shape": "triangle-up", "filled": true, "color": "black", "size": 45, "opacity": 1, "clip": true},
   "encoding": {"x": {"field": "x", "type": "quantitative", "axis": {"orient": "top", "values": [0,0.5,1,1.5,2,2.5], "labels": false, "domain": false, "grid": false, "tickSize": -12, "title": null}},
                "y": {"field": "y", "type": "quantitative", "axis": {"orient": "right", "values": [0.8,0.82,0.84,0.86,0.88,0.9,0.92,0.94,0.96,0.98,1], "labels": false, "domain": false, "grid": false, "tickSize": -10, "title": null}}}},
  {"transform": [{"filter": "datum.s == '500'"}],
   "mark": {"type": "point", "shape": "triangle-down", "filled": true, "color": "black", "size": 45, "opacity": 1, "clip": true},
   "encoding": {"x": {"field": "x", "type": "quantitative", "axis": {"orient": "top", "values": [-0.1,0.1,0.2,0.3,0.4,0.6,0.7,0.8,0.9,1.1,1.2,1.3,1.4,1.6,1.7,1.8,1.9,2.1,2.2,2.3,2.4], "labels": false, "domain": false, "grid": false, "tickSize": -6, "title": null}},
                "y": {"field": "y", "type": "quantitative", "axis": {"orient": "right", "values": [0.805,0.81,0.815,0.825,0.83,0.835,0.845,0.85,0.855,0.865,0.87,0.875,0.885,0.89,0.895,0.905,0.91,0.915,0.925,0.93,0.935,0.945,0.95,0.955,0.965,0.97,0.975,0.985,0.99,0.995], "labels": false, "domain": false, "grid": false, "tickSize": -5, "title": null}}}},
  {"transform": [{"filter": "datum.s == '1000'"}],
   "mark": {"type": "point", "shape": "M0,-1V1M-1,0H1M-0.7,-0.7L0.7,0.7M-0.7,0.7L0.7,-0.7", "filled": false, "color": "black", "strokeWidth": 1, "size": 25, "opacity": 1, "clip": true},
   "encoding": {"x": {"field": "x", "type": "quantitative", "axis": null}, "y": {"field": "y", "type": "quantitative", "axis": null}}},
  {"transform": [{"filter": "datum.x == 0"}],
   "mark": {"type": "point", "filled": true, "color": "black", "stroke": "black", "strokeWidth": 1, "opacity": 1, "clip": true},
   "encoding": {
    "x": {"field": "x", "type": "quantitative", "axis": null},
    "y": {"datum": 0.5, "type": "quantitative", "axis": null},
    "shape": {"field": "s", "type": "nominal",
      "scale": {"domain": ["10","50","100","500","1000"], "range": ["M-1,0H1M-0.21,0A0.21,0.21,0,1,1,0.21,0A0.21,0.21,0,1,1,-0.21,0Z", "M-1,0H1M-0.2,-0.2H0.2V0.2H-0.2Z", "M-1,0H1M0,-0.25L0.23,0.17H-0.23Z", "M-1,0H1M0,0.25L0.23,-0.17H-0.23Z", "M-1,0H1M0,-0.12V0.12M-0.1,-0.1L0.1,0.1M-0.1,0.1L0.1,-0.1"]},
      "legend": {"title": null, "orient": "none", "legendX": 95, "legendY": 256, "direction": "vertical", "symbolSize": 576, "symbolStrokeWidth": 1, "symbolOpacity": 1, "labelFont": "Liberation Sans", "labelFontSize": 16, "labelColor": "black", "labelOffset": 9, "labelLimit": 300, "labelExpr": "'P\u209c = ' + datum.label + ' GeV'", "padding": 3, "strokeColor": "#888", "fillColor": "white", "rowPadding": 3.6, "symbolOffset": 0,
        "encode": {"symbols": {"fill": {"value": "black"}, "stroke": {"value": "black"}, "strokeWidth": {"value": 1}, "opacity": {"value": 1}}}}},
    "strokeDash": {"field": "s", "type": "nominal", "scale": {"domain": ["10","50","100","500","1000"], "range": [[1,0],[5,3],[1,2],[4,2,1,2],[1,0]]},
      "legend": {"title": null, "orient": "none", "legendX": 95, "legendY": 256, "direction": "vertical", "symbolSize": 576, "symbolStrokeWidth": 1, "symbolOpacity": 1, "labelFont": "Liberation Sans", "labelFontSize": 16, "labelColor": "black", "labelOffset": 9, "labelLimit": 300, "labelExpr": "'P\u209c = ' + datum.label + ' GeV'", "padding": 3, "strokeColor": "#888", "fillColor": "white", "rowPadding": 3.6, "symbolOffset": 0,
        "encode": {"symbols": {"fill": {"value": "black"}, "stroke": {"value": "black"}, "strokeWidth": {"value": 1}, "opacity": {"value": 1}}}}}
   }}
 ]
}
],
"spacing": 111,
"bounds": "flush",
"resolve": {"scale": {"shape": "independent", "strokeDash": "independent"}}
}
